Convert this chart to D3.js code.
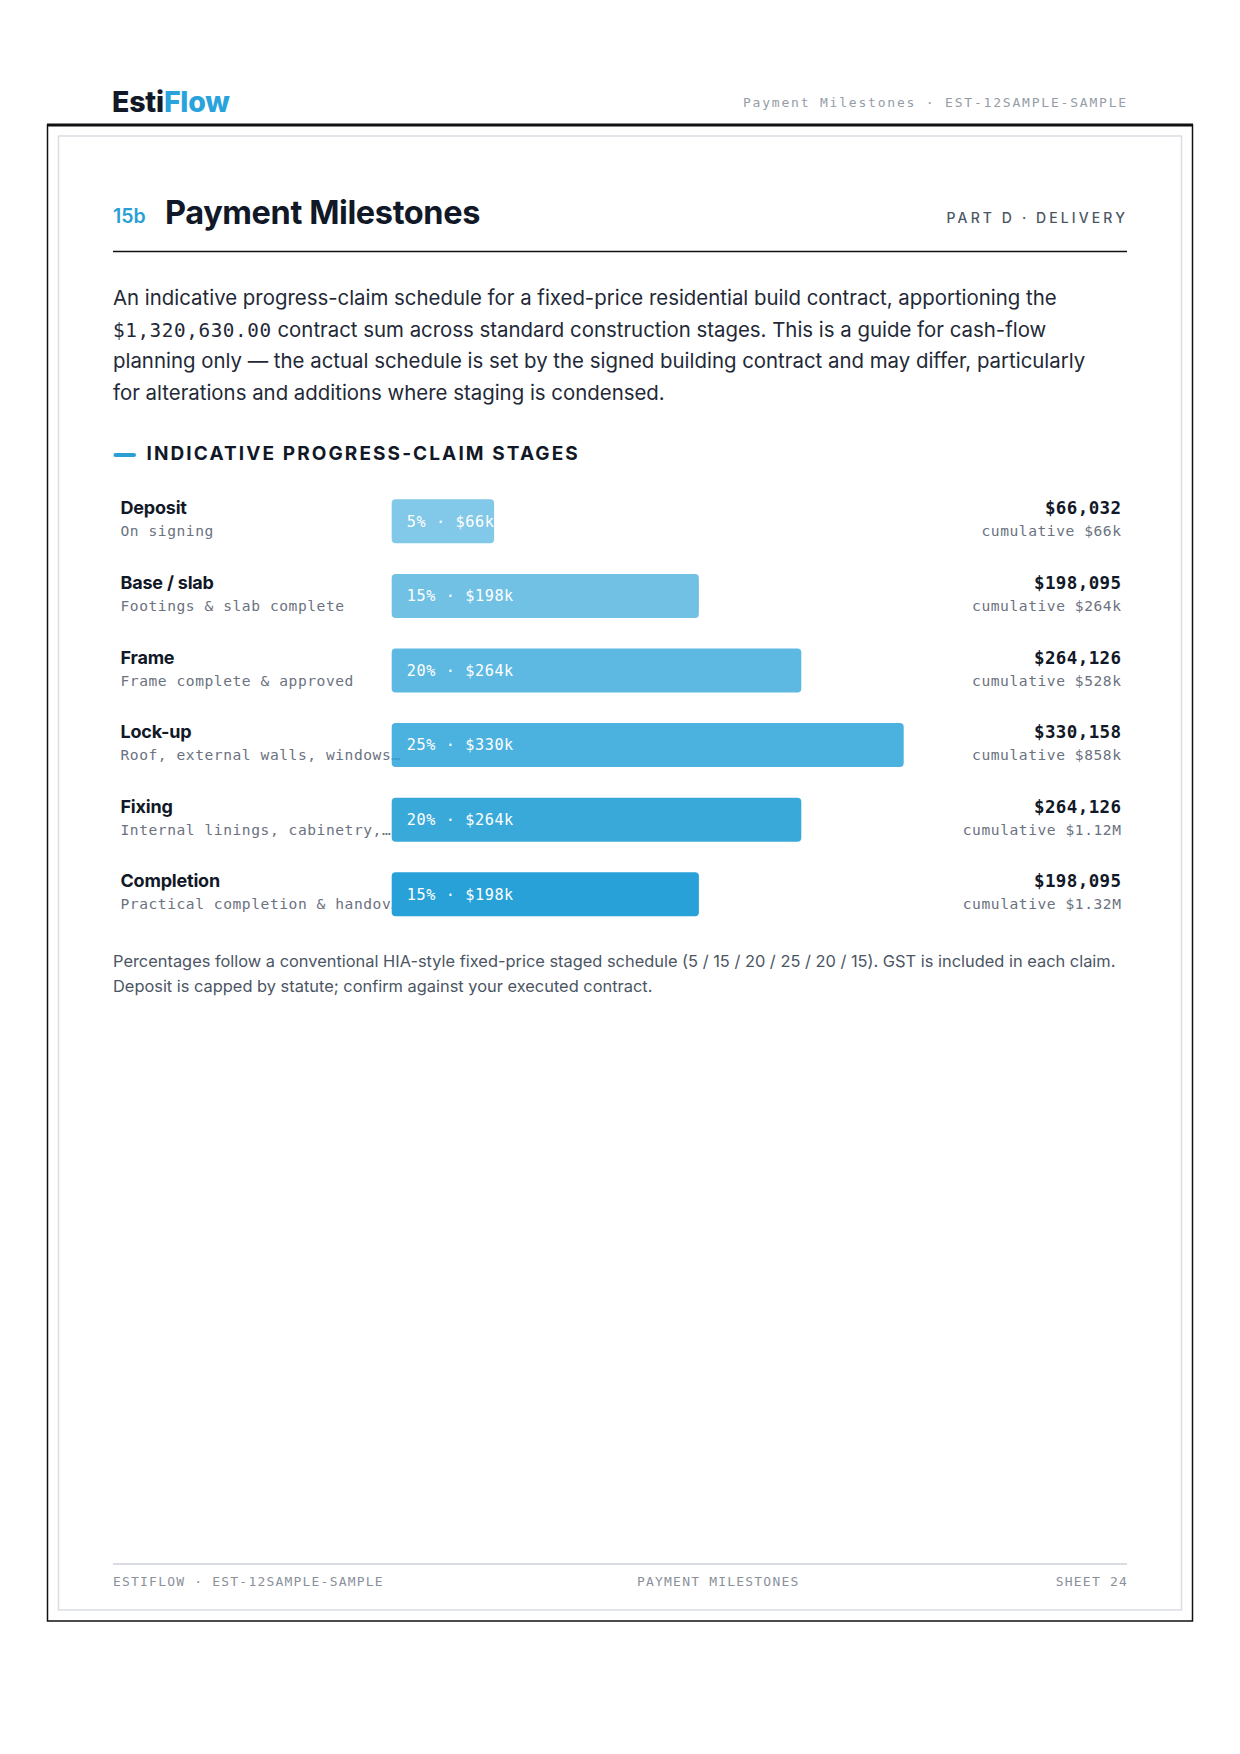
<!DOCTYPE html>
<html><head><meta charset="utf-8">
<script src="https://cdn.jsdelivr.net/npm/d3@7"></script>
<style>
html,body{margin:0;padding:0;background:#fff;}
svg{display:block;}
</style></head><body>
<svg id="page" width="1240" height="1754"></svg>
<script>
// ---------- data ----------
const stages = ["Deposit", "Base / slab", "Frame", "Lock-up", "Fixing", "Completion"];
const stageNotes = ["On signing", "Footings & slab complete", "Frame complete & approved",
  "Roof, external walls, windows & doors", "Internal linings, cabinetry, fit-off", "Practical completion & handover"];
const percents = [5, 15, 20, 25, 20, 15];
const amounts = [66032, 198095, 264126, 330158, 264126, 198095];
const contractSum = "$1,320,630.00";
const introLines = [
  "An indicative progress-claim schedule for a fixed-price residential build contract, apportioning the",
  " contract sum across standard construction stages. This is a guide for cash-flow",
  "planning only \u2014 the actual schedule is set by the signed building contract and may differ, particularly",
  "for alterations and additions where staging is condensed."
];
const noteLines = [
  "Percentages follow a conventional HIA-style fixed-price staged schedule (5 / 15 / 20 / 25 / 20 / 15). GST is included in each claim.",
  "Deposit is capped by statute; confirm against your executed contract."
];

// ---------- setup ----------
const SANS = "Inter, 'Noto Sans', sans-serif";
const MONO = "'DejaVu Sans Mono', 'Liberation Mono', monospace";
const INK = "#111827", BLUE = "#27a1d7", GREY = "#6b7280", LIGHT = "#d9dde3";
const svg = d3.select("#page");

// frames
svg.append("rect").attr("x", 47.5).attr("y", 125).attr("width", 1145).attr("height", 1496)
  .attr("fill", "none").attr("stroke", "#111").attr("stroke-width", 1.5);
svg.append("line").attr("x1", 47).attr("x2", 1193).attr("y1", 125).attr("y2", 125)
  .attr("stroke", "#111").attr("stroke-width", 3);
svg.append("rect").attr("x", 58.5).attr("y", 136).attr("width", 1123).attr("height", 1474)
  .attr("fill", "none").attr("stroke", LIGHT).attr("stroke-width", 1.5);

// header
const logo = svg.append("text").attr("x", 112).attr("y", 111.5)
  .attr("font-family", SANS).attr("font-weight", 800).attr("font-size", 28.5).attr("letter-spacing", -0.2);
logo.append("tspan").attr("fill", INK).text("Esti");
logo.append("tspan").attr("fill", "#29a3dc").text("Flow");
svg.append("text").attr("x", 1128).attr("y", 106.5).attr("text-anchor", "end")
  .attr("font-family", MONO).attr("font-size", 13).attr("letter-spacing", 1.8).attr("fill", "#959ca6")
  .text("Payment Milestones \u00b7 EST-12SAMPLE-SAMPLE");

// title
svg.append("text").attr("x", 113).attr("y", 223).attr("font-family", SANS).attr("font-weight", 600)
  .attr("font-size", 19.5).attr("fill", "#2a9fd6").text("15b");
svg.append("text").attr("x", 165).attr("y", 224).attr("font-family", SANS).attr("font-weight", 700)
  .attr("font-size", 32.5).attr("letter-spacing", -0.4).attr("fill", INK).text("Payment Milestones");
svg.append("text").attr("x", 1128).attr("y", 223).attr("text-anchor", "end").attr("font-family", SANS)
  .attr("font-weight", 500).attr("font-size", 14).attr("letter-spacing", 3.1).attr("fill", "#4b5563")
  .text("PART D \u00b7 DELIVERY");
svg.append("line").attr("x1", 113).attr("x2", 1127).attr("y1", 251.5).attr("y2", 251.5)
  .attr("stroke", "#111").attr("stroke-width", 1.5);

// intro paragraph
const intro = svg.append("g").attr("font-family", SANS).attr("font-size", 20.4).attr("fill", "#1f2937");
introLines.forEach((ln, i) => {
  const t = intro.append("text").attr("x", 113).attr("y", 305 + i * 31.5);
  if (i === 1) {
    t.append("tspan").attr("font-family", MONO).attr("font-size", 19.3).attr("letter-spacing", 0.6).text(contractSum);
  }
  t.append("tspan").text(ln);
});

// section heading
svg.append("line").attr("x1", 115.5).attr("x2", 134).attr("y1", 455).attr("y2", 455)
  .attr("stroke", "#2a9fd6").attr("stroke-width", 4).attr("stroke-linecap", "round");
svg.append("text").attr("x", 146.5).attr("y", 459.5).attr("font-family", SANS).attr("font-weight", 700)
  .attr("font-size", 19).attr("letter-spacing", 2.1).attr("fill", INK).text("INDICATIVE PROGRESS-CLAIM STAGES");

// ---------- chart ----------
const rows = stages.map((s, i) => ({ stage: s, note: stageNotes[i], pct: percents[i], amt: amounts[i] }));
const cum = d3.cumsum(amounts);
rows.forEach((r, i) => r.cum = cum[i]);

const barX0 = 391.7;
const x = d3.scaleLinear().domain([0, d3.max(percents)]).range([0, 512]);
const step = 74.6, top0 = 499.3, bh = 44;
const y = d3.scalePoint().domain(stages).range([top0, top0 + step * (stages.length - 1)]);
const yTop = s => y(s);
const op = d3.scaleLinear().domain([0, stages.length - 1]).range([0.58, 1]);

const fmtK = v => v >= 1e6 ? "$" + (v / 1e6).toFixed(2) + "M" : "$" + Math.round(v / 1000) + "k";
const fmtFull = d3.format("$,.0f");

const chart = svg.append("g");
const defs = svg.append("defs");

const row = chart.selectAll("g.row").data(rows).join("g").attr("class", "row");

// labels (below bars)
row.append("text").attr("x", 120.5).attr("y", d => yTop(d.stage) + 15)
  .attr("font-family", SANS).attr("font-weight", 700).attr("font-size", 18).attr("letter-spacing", -0.2)
  .attr("fill", INK).text(d => d.stage);
row.append("text").attr("class", "note").attr("x", 120.5).attr("y", d => yTop(d.stage) + 37)
  .attr("font-family", MONO).attr("font-size", 14.6).attr("letter-spacing", 0.55)
  .attr("fill", GREY).text(d => d.note)
  .each(function (d) {
    const el = d3.select(this), maxW = 284;
    let s = d.note;
    if (this.getComputedTextLength() <= maxW) return;
    while (s.length > 0) {
      s = s.slice(0, -1);
      el.text(s.replace(/\s+$/, "") + "\u2026");
      if (this.getComputedTextLength() <= maxW) break;
    }
  });

// bars
row.each(function (d, i) {
  const id = "clip" + i;
  defs.append("clipPath").attr("id", id).append("rect")
    .attr("x", barX0).attr("y", yTop(d.stage)).attr("width", x(d.pct)).attr("height", bh).attr("rx", 4);
  const g = d3.select(this);
  g.append("rect").attr("x", barX0).attr("y", yTop(d.stage)).attr("width", x(d.pct)).attr("height", bh)
    .attr("rx", 4).attr("fill", BLUE).attr("fill-opacity", op(i));
  g.append("text").attr("clip-path", `url(#${id})`).attr("x", barX0 + 15).attr("y", yTop(d.stage) + 27.3)
    .attr("font-family", MONO).attr("font-size", 15.2).attr("letter-spacing", 0.6).attr("fill", "#fff")
    .text(`${d.pct}% \u00b7 ${fmtK(d.amt)}`);
});

// right values
row.append("text").attr("x", 1121.5).attr("y", d => yTop(d.stage) + 15).attr("text-anchor", "end")
  .attr("font-family", MONO).attr("font-weight", 700).attr("font-size", 17.5).attr("letter-spacing", 0.4)
  .attr("fill", INK).text(d => fmtFull(d.amt));
row.append("text").attr("x", 1121.5).attr("y", d => yTop(d.stage) + 37).attr("text-anchor", "end")
  .attr("font-family", MONO).attr("font-size", 14.6).attr("letter-spacing", 0.55)
  .attr("fill", GREY).text(d => "cumulative " + fmtK(d.cum));

// footnote
const fn = svg.append("g").attr("font-family", SANS).attr("font-size", 16.4).attr("fill", "#4b5563");
noteLines.forEach((ln, i) => fn.append("text").attr("x", 113).attr("y", 966.5 + i * 25).text(ln));

// footer
svg.append("line").attr("x1", 113).attr("x2", 1127).attr("y1", 1564).attr("y2", 1564)
  .attr("stroke", LIGHT).attr("stroke-width", 2);
const ft = svg.append("g").attr("font-family", MONO).attr("font-size", 13).attr("letter-spacing", 1.2).attr("fill", "#8a919b");
ft.append("text").attr("x", 113).attr("y", 1585.5).text("ESTIFLOW \u00b7 EST-12SAMPLE-SAMPLE");
ft.append("text").attr("x", 637).attr("y", 1585.5).text("PAYMENT MILESTONES");
ft.append("text").attr("x", 1128).attr("y", 1585.5).attr("text-anchor", "end").text("SHEET 24");
</script>
</body></html>
